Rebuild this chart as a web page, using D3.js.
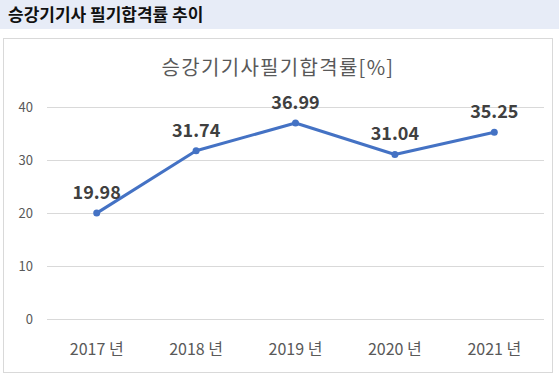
<!DOCTYPE html>
<html><head><meta charset="utf-8">
<script src="https://cdn.jsdelivr.net/npm/d3@7"></script>
<style>body{margin:0;background:#fff;}svg{display:block;}</style>
</head><body>
<script>
const categories = ["2017 년","2018 년","2019 년","2020 년","2021 년"];
const values = [19.98, 31.74, 36.99, 31.04, 35.25];
const yTicks = [0,10,20,30,40];
const headerTitle = "승강기기사 필기합격률 추이";
const chartTitle = "승강기기사필기합격률[%]";

const W=559,H=378;
const svg=d3.select("body").append("svg").attr("width",W).attr("height",H);
const font="'Noto Sans CJK KR','Noto Sans',sans-serif";
svg.append("rect").attr("x",0).attr("y",0).attr("width",W).attr("height",29).attr("fill","#e7ecf7");
svg.append("text").attr("x",8).attr("y",21).text(headerTitle)
  .attr("font-family",font).attr("font-weight","bold").attr("font-size",17).attr("fill","#111");
svg.append("rect").attr("x",3.5).attr("y",38.5).attr("width",549).attr("height",334)
  .attr("fill","#fff").attr("stroke","#d9d9d9").attr("stroke-width",1);
svg.append("text").attr("x",278).attr("y",75).attr("text-anchor","middle").text(chartTitle)
  .attr("font-family",font).attr("font-size",20).attr("letter-spacing",1.3).attr("fill","#595959");

const x=d3.scaleBand().domain(categories).range([47,544]);
const y=d3.scaleLinear().domain([0,40]).range([319,107]);

const g=svg.append("g");
g.selectAll("line.grid").data(yTicks).join("line").attr("class","grid")
  .attr("x1",47).attr("x2",544).attr("y1",d=>Math.round(y(d))+0.5).attr("y2",d=>Math.round(y(d))+0.5)
  .attr("stroke","#d9d9d9").attr("stroke-width",1);
g.selectAll("text.yt").data(yTicks).join("text").attr("class","yt")
  .attr("x",33).attr("y",d=>y(d)+4.5).attr("text-anchor","end").text(d=>d)
  .attr("font-family",font).attr("font-size",13).attr("fill","#595959");
g.selectAll("text.xt").data(categories).join("text").attr("class","xt")
  .attr("x",d=>x(d)+x.bandwidth()/2).attr("y",355).attr("text-anchor","middle").text(d=>d)
  .attr("font-family",font).attr("font-size",16).attr("fill","#595959");

const pts=categories.map((c,i)=>[x(c)+x.bandwidth()/2,y(values[i])]);
g.append("path").attr("d",d3.line()(pts)).attr("fill","none").attr("stroke","#4472c4").attr("stroke-width",3).attr("stroke-linejoin","round");
g.selectAll("circle").data(pts).join("circle").attr("cx",d=>d[0]).attr("cy",d=>d[1]).attr("r",3.5).attr("fill","#4472c4");
g.selectAll("text.lbl").data(values).join("text").attr("class","lbl")
  .attr("x",(d,i)=>pts[i][0]).attr("y",(d,i)=>pts[i][1]-14).attr("text-anchor","middle").text(d=>d.toFixed(2))
  .attr("font-family",font).attr("font-weight","bold").attr("font-size",18).attr("fill","#404040");
</script>
</body></html>
